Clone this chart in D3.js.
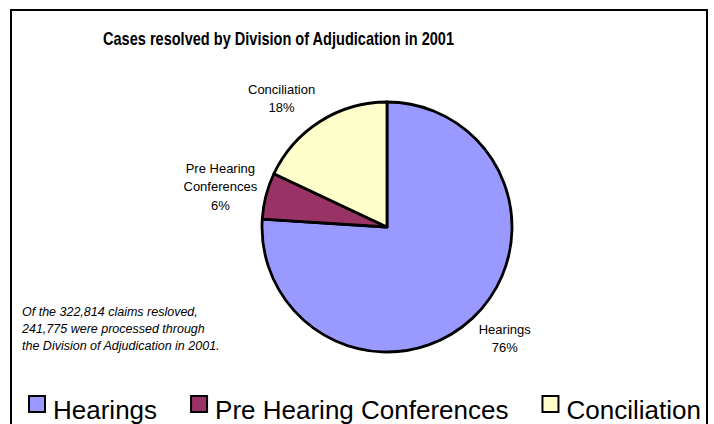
<!DOCTYPE html>
<html>
<head>
<meta charset="utf-8">
<script src="https://cdn.jsdelivr.net/npm/d3@7"></script>
<style>
  html, body { margin: 0; padding: 0; background: #fff; }
  svg { display: block; font-family: "Liberation Sans", Arial, sans-serif; }
</style>
</head>
<body>
<div id="chart"></div>
<script>
// data
const categories = ["Hearings", "Pre Hearing Conferences", "Conciliation"];
const labelLines = [["Hearings"], ["Pre Hearing", "Conferences"], ["Conciliation"]];
const shares = [76, 6, 18];
const colors = ["#9999ff", "#993366", "#ffffcc"];
const noteLines = [
  "Of the 322,814 claims resloved,",
  "241,775 were processed through",
  "the Division of Adjudication in 2001."
];

(function () {
  const W = 714, H = 424;
  const cx = 387, cy = 227, r = 125;

  const svg = d3.select("#chart").append("svg")
    .attr("width", W).attr("height", H);

  // chart frame (runs off the bottom like the original)
  svg.append("rect")
    .attr("x", 11).attr("y", 10)
    .attr("width", 696).attr("height", 430)
    .attr("fill", "#fff")
    .attr("stroke", "#000")
    .attr("stroke-width", 2);

  svg.append("text")
    .attr("x", 103).attr("y", 45)
    .attr("font-size", 19)
    .attr("font-weight", "bold")
    .attr("textLength", 351)
    .attr("lengthAdjust", "spacingAndGlyphs")
    .text("Cases resolved by Division of Adjudication in 2001");

  const color = d3.scaleOrdinal().domain(categories).range(colors);

  const pie = d3.pie().sort(null).value((d, i) => shares[i]);
  const arcs = pie(categories);
  const arc = d3.arc().innerRadius(0).outerRadius(r);

  const g = svg.append("g").attr("transform", `translate(${cx},${cy})`);

  g.selectAll("path.slice")
    .data(arcs)
    .enter()
    .append("path")
    .attr("class", "slice")
    .attr("d", arc)
    .attr("fill", (d) => color(d.data))
    .attr("stroke", "#000")
    .attr("stroke-width", 2.8)
    .attr("stroke-linejoin", "round");

  // labels placed just outside the slice, the way the spreadsheet did it
  const fs = 13, lh = 18.5, gap = 9;
  arcs.forEach(function (d, i) {
    const lines = labelLines[i].concat([Math.round(shares[i]) + "%"]);
    const mid = (d.startAngle + d.endAngle) / 2;
    const dx = Math.sin(mid), dy = -Math.cos(mid);
    const tmp = g.append("text").attr("font-size", fs);
    let w = 0;
    lines.forEach((l) => {
      tmp.text(l);
      w = Math.max(w, tmp.node().getComputedTextLength());
    });
    tmp.remove();
    const h = lines.length * lh;
    const px = dx * (r + gap), py = dy * (r + gap);
    const bx = px + Math.sign(dx) * w / 2;
    const by = py + dy * h / 2;

    const t = g.append("text")
      .attr("font-size", fs)
      .attr("fill", "#000")
      .attr("text-anchor", "middle");
    lines.forEach((l, k) => {
      t.append("tspan")
        .attr("x", bx)
        .attr("y", by - ((lines.length - 1) * lh) / 2 + k * lh + fs * 0.36)
        .text(l);
    });
  });

  // note in the lower left
  const note = svg.append("text")
    .attr("font-size", 12.5)
    .attr("font-style", "italic")
    .attr("fill", "#000");
  noteLines.forEach((l, k) => {
    note.append("tspan").attr("x", 22).attr("y", 316 + k * 17).text(l);
  });

  // legend along the bottom
  const legend = svg.append("g").attr("class", "legend");
  let lx = 29;
  categories.forEach(function (c) {
    legend.append("rect")
      .attr("x", lx).attr("y", 396)
      .attr("width", 16).attr("height", 16)
      .attr("fill", color(c))
      .attr("stroke", "#000")
      .attr("stroke-width", 2);
    const t = legend.append("text")
      .attr("x", lx + 24).attr("y", 419)
      .attr("font-size", 26)
      .text(c);
    lx += 24 + t.node().getComputedTextLength() + 34;
  });
})();
</script>
</body>
</html>
